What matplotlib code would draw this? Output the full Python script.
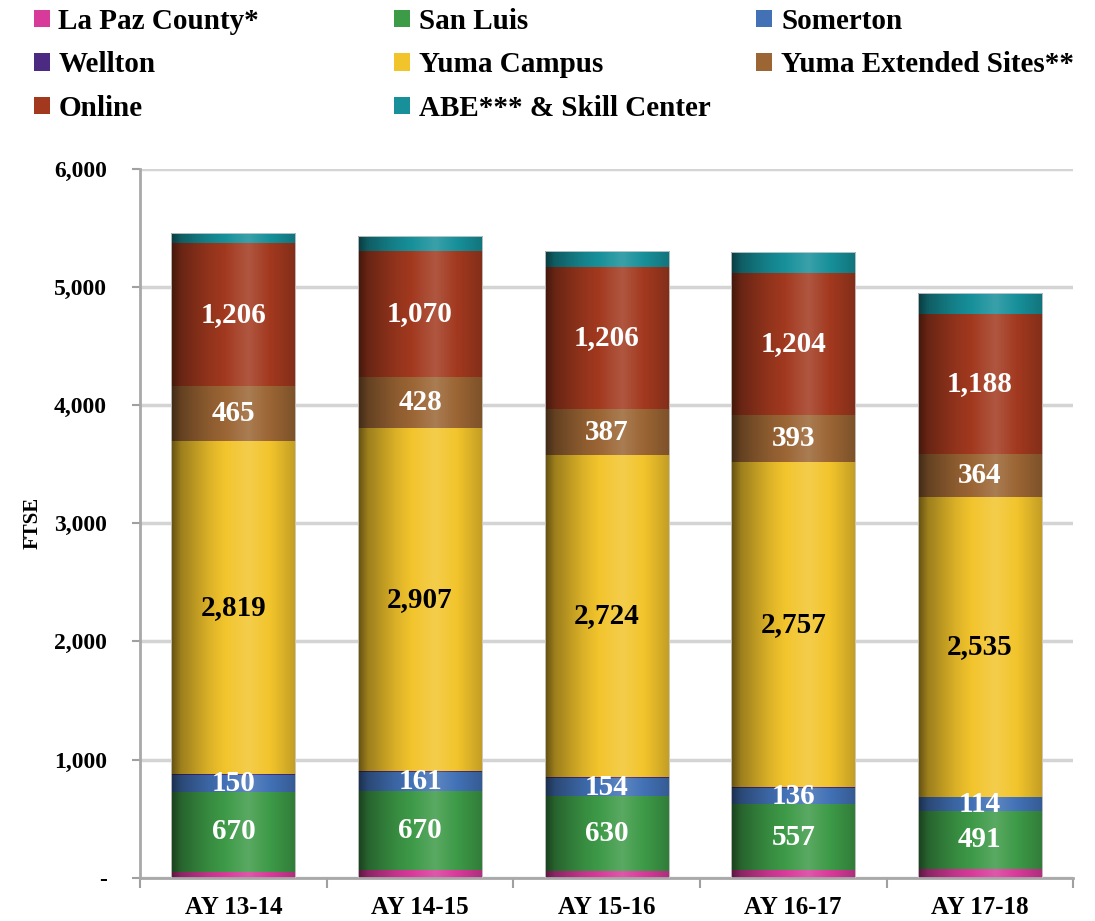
import numpy as np
import matplotlib.pyplot as plt
from matplotlib.colors import to_rgb
from matplotlib.patches import Patch

years = ["AY 13-14", "AY 14-15", "AY 15-16", "AY 16-17", "AY 17-18"]

la_paz = [52, 62, 60, 64, 75]
san_luis = [670, 670, 630, 557, 491]
somerton = [150, 161, 154, 136, 114]
wellton = [8, 7, 8, 7, 5]
yuma_campus = [2819, 2907, 2724, 2757, 2535]
yuma_ext = [465, 428, 387, 393, 364]
online = [1206, 1070, 1206, 1204, 1188]
abe_skill = [82, 127, 135, 178, 176]

names = ["La Paz County*", "San Luis", "Somerton", "Wellton", "Yuma Campus",
         "Yuma Extended Sites**", "Online", "ABE*** & Skill Center"]
values = [la_paz, san_luis, somerton, wellton, yuma_campus, yuma_ext, online, abe_skill]
colors = ["#d83a9a", "#3d9a47", "#4271b6", "#4c2a82", "#f2c42c",
          "#9b6534", "#a2391f", "#17909a"]
# which series get a value label, and in what colour
label_colors = {1: "white", 2: "white", 4: "black", 5: "white", 6: "white"}

plt.rcParams['font.family'] = ['Liberation Serif', 'DejaVu Serif']
plt.rcParams['font.weight'] = 'bold'

fig = plt.figure(figsize=(10.95, 9.21), dpi=100)
ax = fig.add_axes([0.128, 0.047, 0.852, 0.77])


def shade_strip(color, n=256):
    # horizontal cylinder-like shading: dark left edge, highlight right of centre
    base = np.array(to_rgb(color))
    t = np.linspace(0, 1, n)
    k = np.interp(t, [0, 0.08, 0.3, 0.62, 0.85, 1.0],
                  [0.4, 0.65, 0.9, 1.15, 0.95, 0.8])
    out = np.empty((2, n, 3))
    for i, m in enumerate(k):
        out[:, i] = base * m if m <= 1 else base + (1 - base) * (m - 1)
    return np.clip(out, 0, 1)


x = np.arange(len(years))
width = 0.665
bottom = np.zeros(len(years))
for i, (vals, col) in enumerate(zip(values, colors)):
    vals = np.array(vals, dtype=float)
    bars = ax.bar(x, vals, width, bottom=bottom, color="none", edgecolor="none")
    strip = shade_strip(col)
    for rect in bars:
        x0, y0 = rect.get_x(), rect.get_y()
        img = ax.imshow(strip, extent=(x0, x0 + rect.get_width(), y0, y0 + rect.get_height()),
                        aspect="auto", interpolation="nearest", zorder=2)
        img.set_clip_path(rect)
    if i in label_colors:
        for xi, b, v in zip(x, bottom, vals):
            ax.text(xi, b + v / 2, f"{int(v):,}", ha="center", va="center",
                    fontsize=21, fontweight="bold", color=label_colors[i], zorder=4)
    bottom += vals

# faint outline around each full column
ax.bar(x, bottom, width, fill=False, edgecolor="#cfcfcf", lw=0.6, zorder=3)

ax.set_xlim(-0.5, len(years) - 0.5)
ax.set_ylim(0, 6000)
ax.set_yticks(np.arange(0, 6001, 1000))
ax.set_yticklabels(["-" if v == 0 else f"{v:,}" for v in range(0, 6001, 1000)],
                   fontsize=17)
ax.yaxis.grid(True, color="#d4d4d4", lw=2.5, zorder=0)
ax.set_axisbelow(True)
ax.set_xticks(x)
ax.set_xticklabels(years, fontsize=18)
ax.set_xticks(np.arange(-0.5, len(years), 1), minor=True)
ax.tick_params(axis="x", which="major", length=0, pad=13)
ax.tick_params(axis="x", which="minor", length=7, color="#a0a0a0", width=1.5)
ax.tick_params(axis="y", length=6, color="#a0a0a0", width=1.5, pad=18)
for side in ["top", "right"]:
    ax.spines[side].set_visible(False)
for side in ["left", "bottom"]:
    ax.spines[side].set_color("#a8a8a8")
    ax.spines[side].set_linewidth(2)
ax.set_ylabel("FTSE", fontsize=15, fontweight="bold", labelpad=8)

# legend laid out as three columns, row by row
handles = [Patch(facecolor=c, edgecolor="none") for c in colors]
columns = [[0, 3, 6], [1, 4, 7], [2, 5]]
col_x = [0.02, 0.349, 0.68]
for cx, idx in zip(col_x, columns):
    fig.legend([handles[j] for j in idx], [names[j] for j in idx],
               loc="upper left", bbox_to_anchor=(cx, 1.004), frameon=False,
               fontsize=21, handlelength=0.55, handleheight=0.55,
               handletextpad=0.3, labelspacing=0.56, borderaxespad=0)

fig.savefig("out.png", dpi=100)
